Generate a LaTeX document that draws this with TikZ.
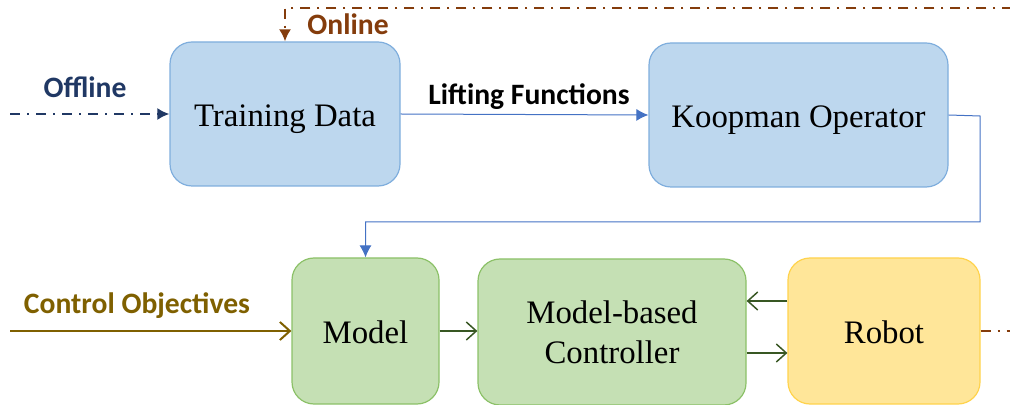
\documentclass[tikz,border=0pt]{standalone}
\usepackage{fontspec}
\setmainfont{Liberation Serif}
\newfontfamily\lblfont{Carlito}
\usetikzlibrary{arrows.meta}

\definecolor{boxblue}{HTML}{BDD7EE}
\definecolor{lineblue}{HTML}{7FAEDD}
\definecolor{arrblue}{HTML}{4472C4}
\definecolor{boxgreen}{HTML}{C5E0B4}
\definecolor{linegreen}{HTML}{8CC168}
\definecolor{arrgreen}{HTML}{385723}
\definecolor{boxyellow}{HTML}{FFE699}
\definecolor{lineyellow}{HTML}{FFD34D}
\definecolor{offblue}{HTML}{203864}
\definecolor{onbrown}{HTML}{843C0C}
\definecolor{objolive}{HTML}{7F6000}

\begin{document}
\begin{tikzpicture}[x=0.5pt, y=-0.5pt,
    block/.style={rounded corners=11pt, line width=0.6pt, align=center,
        inner sep=0pt, font=\fontsize{16.4}{20}\selectfont},
    oneline/.style={text height=14.5pt, text depth=2pt},
    blueblock/.style={block, oneline, fill=boxblue, draw=lineblue},
    greenblock/.style={block, fill=boxgreen, draw=linegreen},
    yellowblock/.style={block, oneline, fill=boxyellow, draw=lineyellow},
    lbl/.style={font=\lblfont\bfseries\fontsize{14.8}{17}\selectfont},
    dashdot/.style={line width=1pt, dash pattern=on 5pt off 3.5pt on 1pt off 3.5pt},
    >=Latex]
    \useasboundingbox (0,0) rectangle (1010,405);

    % upper row
    \node[blueblock, minimum width=115pt, minimum height=72pt] (train) at (285,114) {Training Data};
    \node[blueblock, minimum width=149.5pt, minimum height=72pt] (koop) at (798.5,115) {Koopman Operator};

    % lower row
    \node[greenblock, oneline, minimum width=73.5pt, minimum height=73pt] (model) at (365.5,331) {Model};
    \node[greenblock, minimum width=134pt, minimum height=73pt] (ctrl) at (612,332) {Model-based\\Controller};
    \node[yellowblock, minimum width=96pt, minimum height=73pt] (robot) at (884,331) {Robot};

    % free ends
    \coordinate (offin) at (10,114);
    \coordinate (objin) at (10,331);
    \coordinate (onfar) at (1030,8);

    % offline / online
    \draw[dashdot, offblue, -{Latex[length=6pt,width=6pt]}] (offin) -- (train.west);
    \node[lbl, text=offblue] (offl) at (85,87) {Offline};
    \draw[dashdot, onbrown, -{Latex[length=6pt,width=6pt]}]
        (robot.east) -| (onfar) -| (train.north);
    \node[lbl, text=onbrown] (onl) at (348,24) {Online};

    % data flow
    \draw[arrblue, line width=0.5pt, -{Latex[length=6pt,width=6pt]}] (train.east) -- (koop.west);
    \node[lbl] (lift) at (529,97) {Lifting Functions};
    \draw[arrblue, line width=0.5pt, -{Latex[length=6pt,width=6pt]}]
        (koop.east) -- (980,116) -- (980,222) -| (model.north);

    % control loop
    \draw[objolive, line width=1pt, -{Straight Barb[length=5pt,width=9pt]}] (objin) -- (model.west);
    \node[lbl, text=objolive] (obj) at (137,306) {Control Objectives};
    \draw[arrgreen, line width=0.75pt, -{Straight Barb[length=5pt,width=9pt]}] (model.east) -- (model.east -| ctrl.west);
    \draw[arrgreen, line width=0.75pt, -{Straight Barb[length=5pt,width=9pt]}]
        (robot.west |- 0,301) -- (ctrl.east |- 0,301);
    \draw[arrgreen, line width=0.75pt, -{Straight Barb[length=5pt,width=9pt]}]
        (ctrl.east |- 0,353) -- (robot.west |- 0,353);
\end{tikzpicture}
\end{document}
